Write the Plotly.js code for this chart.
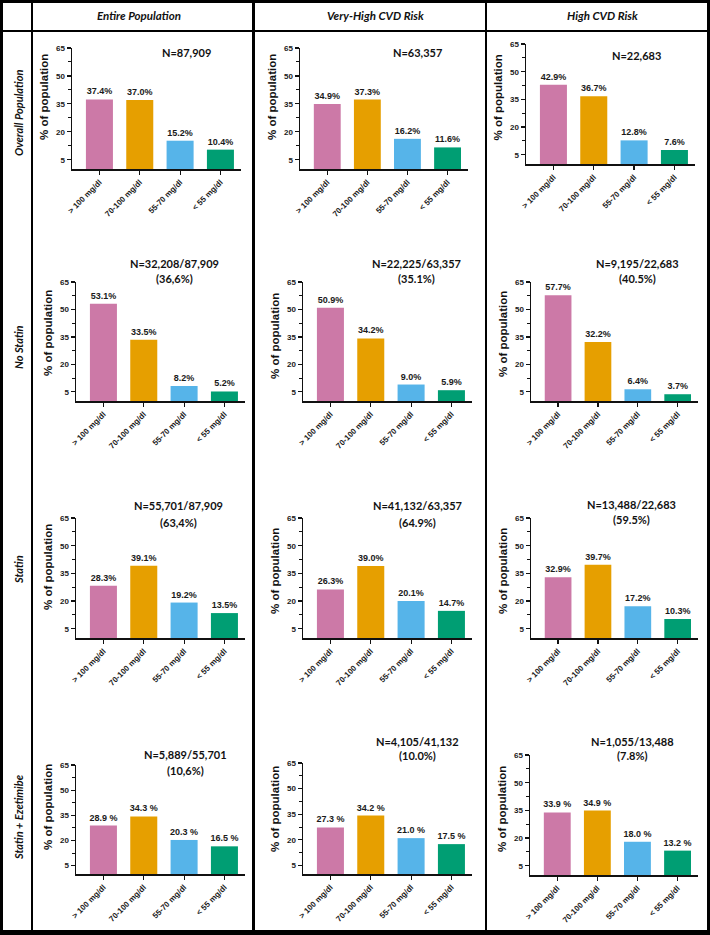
<!DOCTYPE html>
<html>
<head>
<meta charset="utf-8">
<script src="https://cdn.plot.ly/plotly-3.0.1.min.js"></script>
<style>html,body{margin:0;padding:0;background:#fff;}#chart{width:710px;height:935px;}</style>
</head>
<body>
<div id="chart"></div>
<script>
// ---------------- DATA ----------------
const categories = ['> 100 mg/dl', '70-100 mg/dl', '55-70 mg/dl', '< 55 mg/dl'];
const rowNames = ['Overall Population', 'No Statin', 'Statin', 'Statin + Ezetimibe'];
const colNames = ['Entire Population', 'Very-High CVD Risk', 'High CVD Risk'];

// values per column: [Entire Population, Very-High CVD Risk, High CVD Risk]
const overallValues   = [[37.4, 37.0, 15.2, 10.4], [34.9, 37.3, 16.2, 11.6], [42.9, 36.7, 12.8, 7.6]];
const noStatinValues  = [[53.1, 33.5, 8.2, 5.2],   [50.9, 34.2, 9.0, 5.9],   [57.7, 32.2, 6.4, 3.7]];
const statinValues    = [[28.3, 39.1, 19.2, 13.5], [26.3, 39.0, 20.1, 14.7], [32.9, 39.7, 17.2, 10.3]];
const statinEzeValues = [[28.9, 34.3, 20.3, 16.5], [27.3, 34.2, 21.0, 17.5], [33.9, 34.9, 18.0, 13.2]];

const nLabels = [
  ['N=87,909', 'N=63,357', 'N=22,683'],
  ['N=32,208/87,909', 'N=22,225/63,357', 'N=9,195/22,683'],
  ['N=55,701/87,909', 'N=41,132/63,357', 'N=13,488/22,683'],
  ['N=5,889/55,701', 'N=4,105/41,132', 'N=1,055/13,488']
];
const pctLabels = [
  ['', '', ''],
  ['(36,6%)', '(35.1%)', '(40.5%)'],
  ['(63,4%)', '(64.9%)', '(59.5%)'],
  ['(10,6%)', '(10.0%)', '(7.8%)']
];
const labelSuffix = ['%', '%', '%', ' %'];
const yTicks = [5, 20, 35, 50, 65];
const yMinorTicks = [12.5, 27.5, 42.5, 57.5];
const yTitle = '% of population';

// ---------------- LAYOUT GEOMETRY (pixels) ----------------
const W = 710, H = 935;
const colors = ['#CC79A7', '#E69F00', '#56B4E9', '#009E73'];
// [x0, x1, yTop(65), yBottom(0), yTitleCenter, nX, nY1, nY2]
const geom = [
  [[72, 241, 48, 169, 97, 186, 53, 0], [300, 468, 48, 169, 97, 417, 53, 0], [526, 695, 44, 164, 97.5, 636, 55, 0]],
  [[76, 245, 282, 401, 333, 174, 263, 279], [303, 472, 282, 401, 336, 416, 263, 278], [531, 698, 282, 401, 334, 637, 263, 278]],
  [[76, 245, 518, 638, 567, 178, 506, 522], [303, 472, 518, 638, 571, 417, 506, 522], [531, 698, 518, 638, 571, 631, 504, 519]],
  [[76, 245, 765, 874, 807, 185, 754, 770], [303, 472, 763, 874, 809, 417, 741, 755], [530, 698, 755, 875, 809, 632, 741, 755]]
];
const headerPos = [[139, 16], [375, 16], [602, 16]];
const rowLabelPos = [[18, 113], [18, 347], [18, 570], [18, 817]];

const allValues = [overallValues, noStatinValues, statinValues, statinEzeValues];

const px = x => x / W;
const py = y => 1 - y / H;

const xTickFont = {family: 'Liberation Sans, Arial, sans-serif', size: 8, color: '#1a1a1a', weight: 700};
const yTickFont = {family: 'Liberation Sans, Arial, sans-serif', size: 8, color: '#1a1a1a', weight: 700};
const traces = [];
const layout = {
  width: W, height: H,
  margin: {l: 0, r: 0, t: 0, b: 0},
  paper_bgcolor: '#ffffff', plot_bgcolor: 'rgba(0,0,0,0)',
  showlegend: false,
  annotations: [],
  shapes: []
};

let idx = 0;
for (let r = 0; r < 4; r++) {
  for (let c = 0; c < 3; c++) {
    idx++;
    const sfx = idx === 1 ? '' : String(idx);
    const g = geom[r][c];
    const vals = allValues[r][c];
    traces.push({
      type: 'bar',
      x: categories,
      y: vals,
      xaxis: 'x' + sfx,
      yaxis: 'y' + sfx,
      width: 0.67,
      marker: {color: colors, line: {width: 0}},
      text: vals.map(v => v.toFixed(1) + labelSuffix[r]),
      textposition: 'outside',
      constraintext: 'none',
      cliponaxis: false,
      textfont: {family: 'Liberation Sans, Arial, sans-serif', size: 9, color: '#1a1a1a', weight: 700},
      hoverinfo: 'none'
    });
    layout['xaxis' + sfx] = {
      domain: [px(g[0]), px(g[1])],
      anchor: 'y' + sfx,
      type: 'category',
      range: [-0.68, 3.51],
      showline: true, linecolor: '#111', linewidth: 1.5,
      ticks: 'outside', ticklen: 4, tickwidth: 1.2, tickcolor: '#111',
      tickangle: -45,
      tickfont: xTickFont,
      showgrid: false, zeroline: false, fixedrange: true
    };
    layout['yaxis' + sfx] = {
      domain: [py(g[3]), py(g[2])],
      anchor: 'x' + sfx,
      range: [0, 65],
      tickmode: 'array', tickvals: yTicks,
      showline: true, linecolor: '#111', linewidth: 1.5,
      ticks: 'outside', ticklen: 4, tickwidth: 1.2, tickcolor: '#111',
      minor: {tickmode: 'array', tickvals: yMinorTicks, ticks: 'outside', ticklen: 2.5, tickwidth: 1, tickcolor: '#111', showgrid: false},
      tickfont: yTickFont,
      showgrid: false, zeroline: false, fixedrange: true
    };
    // y axis title
    layout.annotations.push({
      xref: 'paper', yref: 'paper', x: px(g[0] - 28), y: py(g[4]),
      xanchor: 'center', yanchor: 'middle', textangle: -90, showarrow: false,
      text: yTitle,
      font: {family: 'Liberation Sans, Arial, sans-serif', size: 11.5, color: '#111', weight: 700}
    });
    // N labels
    layout.annotations.push({
      xref: 'paper', yref: 'paper', x: px(g[5]), y: py(g[6]),
      xanchor: 'center', yanchor: 'middle', showarrow: false,
      text: nLabels[r][c],
      font: {family: 'Lato, sans-serif', size: 11, color: '#111', weight: 700}
    });
    if (pctLabels[r][c]) {
      layout.annotations.push({
        xref: 'paper', yref: 'paper', x: px(g[5]), y: py(g[7]),
        xanchor: 'center', yanchor: 'middle', showarrow: false,
        text: pctLabels[r][c],
        font: {family: 'Lato, sans-serif', size: 11, color: '#111', weight: 700}
      });
    }
  }
}

colNames.forEach((t, i) => {
  layout.annotations.push({
    xref: 'paper', yref: 'paper', x: px(headerPos[i][0]), y: py(headerPos[i][1]),
    xanchor: 'center', yanchor: 'middle', showarrow: false,
    text: '<i>' + t + '</i>',
    font: {family: 'Lato, sans-serif', size: 11.5, color: '#111', weight: 700}
  });
});
rowNames.forEach((t, i) => {
  layout.annotations.push({
    xref: 'paper', yref: 'paper', x: px(rowLabelPos[i][0]), y: py(rowLabelPos[i][1]),
    xanchor: 'center', yanchor: 'middle', textangle: -90, showarrow: false,
    text: '<i>' + t + '</i>',
    font: {family: 'Lato, sans-serif', size: 11, color: '#111', weight: 700}
  });
});

// table borders as filled rectangles [x0, y0, x1, y1] in pixels
const borders = [
  [0, 0, 710, 3], [0, 930, 710, 935], [0, 0, 3, 935], [707, 0, 710, 935],
  [0, 30, 710, 32], [31, 0, 33, 935], [252, 0, 255, 935], [485, 0, 487, 935]
];
borders.forEach(b => {
  layout.shapes.push({
    type: 'rect', xref: 'paper', yref: 'paper', layer: 'above',
    x0: px(b[0]), x1: px(b[2]), y0: py(b[3]), y1: py(b[1]),
    fillcolor: '#000', line: {width: 0}
  });
});

Plotly.newPlot('chart', traces, layout, {displayModeBar: false, staticPlot: true});
</script>
</body>
</html>
